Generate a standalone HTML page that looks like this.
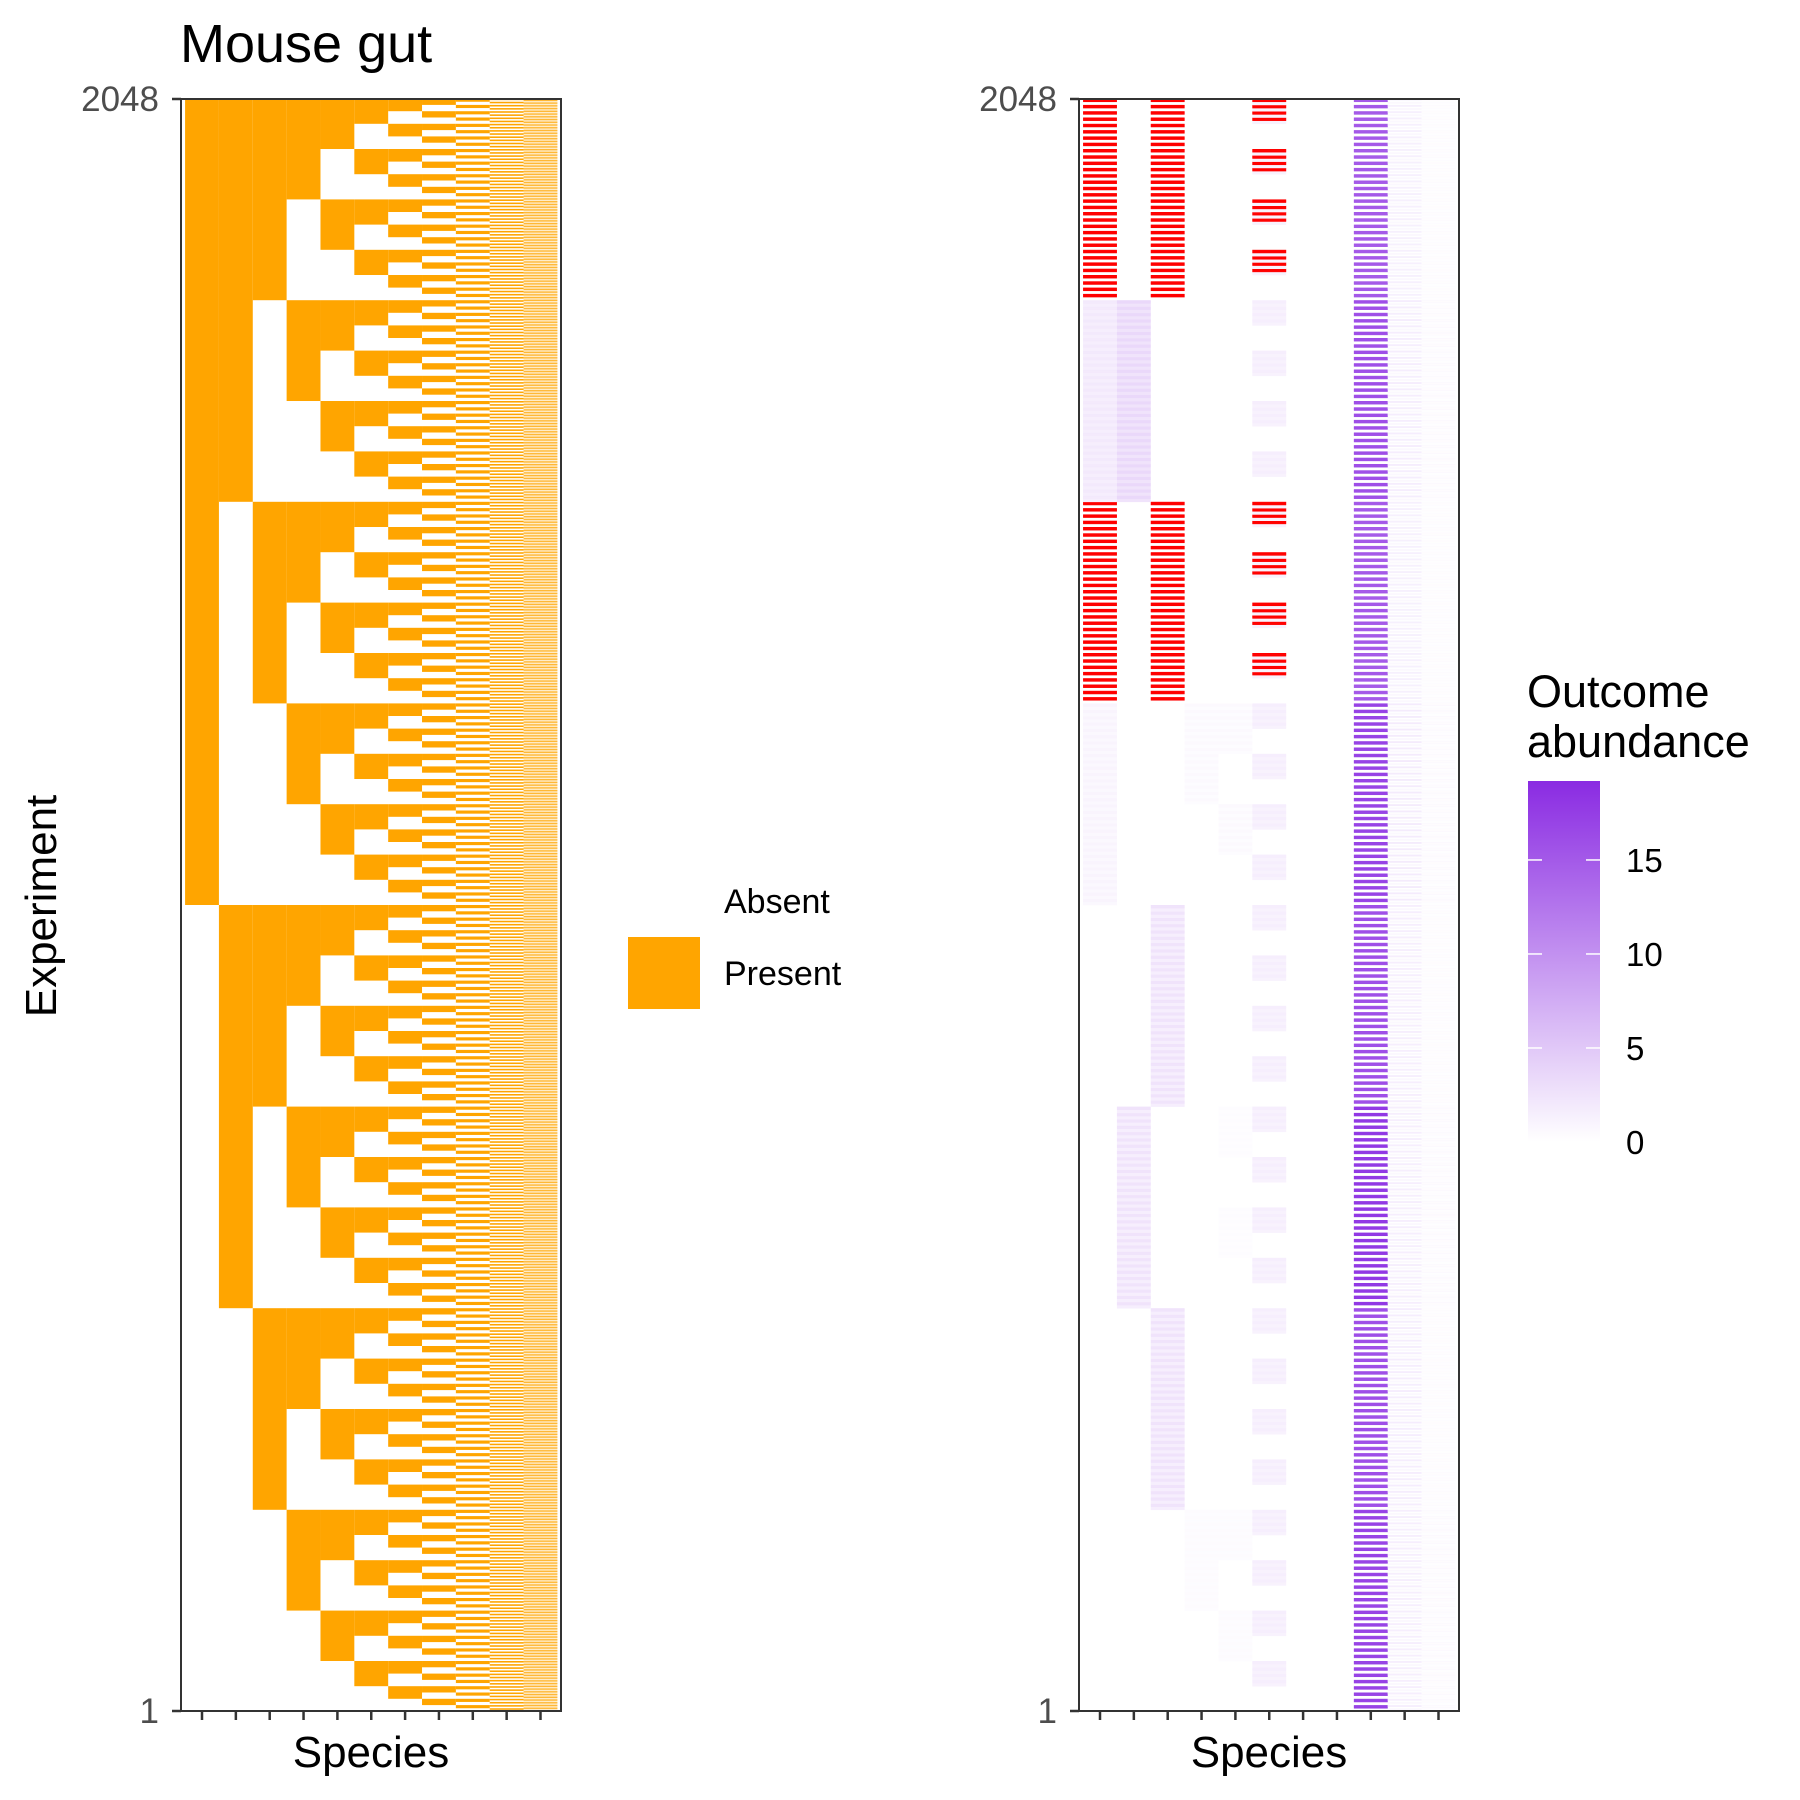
<!DOCTYPE html>
<html><head><meta charset="utf-8"><style>
html,body{margin:0;padding:0;background:#fff;}
svg{display:block;font-family:"Liberation Sans",sans-serif;}
</style></head><body>
<svg id="chart" width="1800" height="1800" viewBox="0 0 1800 1800">
<text x="180" y="62" font-size="54" fill="#000">Mouse gut</text>
<g id="left"></g>
<g id="right"></g>
<text transform="translate(56,906) rotate(-90)" text-anchor="middle" font-size="44" fill="#000">Experiment</text>
<text x="371" y="1767" text-anchor="middle" font-size="44" fill="#000">Species</text>
<text x="1269" y="1767" text-anchor="middle" font-size="44" fill="#000">Species</text>
<g>
<rect x="628" y="865" width="72" height="72" fill="#fff"/>
<text x="724" y="913" font-size="34" fill="#000">Absent</text>
<rect x="628" y="937" width="72" height="72" fill="#FFA500"/>
<text x="724" y="985" font-size="34" fill="#000">Present</text>
</g>
<g>
<text x="1527" y="707" font-size="45" fill="#000">Outcome</text>
<text x="1527" y="757" font-size="45" fill="#000">abundance</text>
<defs><linearGradient id="cb" x1="0" y1="1" x2="0" y2="0">
<stop offset="0" stop-color="#ffffff"/><stop offset="1" stop-color="#8a2be2"/></linearGradient></defs>
<rect x="1528" y="781" width="72" height="361" fill="url(#cb)"/>
<g id="cbticks"></g>
</g>
</svg>
<script>
const NS="http://www.w3.org/2000/svg";
const speciesLabels=["1","2","3","4","5","6","7","8","9","10","11"];
const yTickLabels=["1","2048"];
const nExp=2048;
// abundance per species by top-3-species group (g = s1*4+s2*2+s3), used when species 9 present; -1 = out of range (red)
const abundWith9=[
 [0,0,0,0,1,-1,2,-1],
 [0,0,2.5,0,0,0,3.5,0],
 [0,2.5,0,2.5,0,-1,0,-1],
 [0.4,0,0,0,0.5,0,0,0],
 [0.4,0,0.3,0,0.5,0,0,0],
 [1.5,1.5,1.5,1.5,1.5,-1,1.5,-1],
 [0,0,0,0,0,0,0,0],
 [0,0,0,0,0,0,0,0],
 [17,16,18,16,17,15,16,15],
 [1.5,1.6,1.5,1.5,1.8,1.4,1.6,1.4],
 [0.5,0.4,0.5,0.4,0.5,0.4,0.5,0.4]];
const abundNo9=[
 [0,0,0,0,0.6,0,1.5,0],
 [0,0,1.5,0,0,0,2.5,0],
 [0,1.5,0,1.5,0,0,0,0],
 [0.3,0,0,0,0.3,0,0,0],
 [0.3,0,0.2,0,0.3,0,0,0],
 [1.2,1.2,1.2,1.2,1.2,1.2,1.2,1.2],
 [0,0,0,0,0,0,0,0],
 [0,0,0,0,0,0,0,0],
 [0,0,0,0,0,0,0,0],
 [0.6,0.6,0.6,0.6,0.6,0.6,0.6,0.6],
 [0.3,0.3,0.3,0.3,0.3,0.3,0.3,0.3]];
const cbTicks=[0,5,10,15];
const yTop=99,yBot=1711,cbMax=19.2,cbZero=1142,cbTopY=781;
const panelW=380;
function yScale(v){return yBot-(v-1)*(yBot-yTop)/(nExp-1);}
const rowH=(yBot-yTop)/(nExp-1);
function xScale(i,x0){return x0+21+i*33.85;}
const colW=33.85;
function present(e,j){return (e>>(10-j))&1;}
function col(v){if(v<0)return"#ff0000";const t=Math.min(v/cbMax,1);
 const r=Math.round(255+(138-255)*t),g=Math.round(255+(43-255)*t),b=Math.round(255+(226-255)*t);return`rgb(${r},${g},${b})`;}
function mk(tag,attrs,parent){const el=document.createElementNS(NS,tag);for(const k in attrs)el.setAttribute(k,attrs[k]);parent.appendChild(el);return el;}
function clipRect(y0,y1){return[Math.max(yTop,y0),Math.min(yBot,y1)];}
function frame(g,x0,name){
 const r=mk("rect",{x:x0,y:yTop,width:panelW,height:yBot-yTop,fill:"none",stroke:"#333",'stroke-width':2},g);
 
 
 speciesLabels.forEach((s,i)=>{
  const t=mk("line",{x1:xScale(i,x0),x2:xScale(i,x0),y1:yBot,y2:yBot+9,stroke:"#333",'stroke-width':2.5},g);
  
  });
 yTickLabels.forEach(l=>{const y=yScale(+l);
  const t=mk("line",{x1:x0-9,x2:x0,y1:y,y2:y,stroke:"#333",'stroke-width':2.5},g);
  
  
  const tx=mk("text",{x:x0-22,y:y+12,'text-anchor':"end",'font-size':35,fill:"#4d4d4d"},g);tx.textContent=l;
  
  });
}
const L=document.getElementById("left");const lx=181;
for(let j=0;j<11;j++){const run=1<<(10-j);
 for(let s=run;s<nExp;s+=2*run){
  const [y0,y1]=clipRect(yScale(s+run)-rowH/2,yScale(s+1)+rowH/2);
  const r=mk("rect",{x:xScale(j,lx)-colW/2,y:y0,width:colW,height:y1-y0,fill:"#FFA500"},L);
  
  }}
frame(L,lx,'left-panel');
const R=document.getElementById("right");const rx=1079;
for(let e=0;e<nExp;e++){const g=present(e,0)*4+present(e,1)*2+present(e,2);const h9=present(e,8);
 for(let j=0;j<11;j++){if(!present(e,j))continue;
  const v=h9?abundWith9[j][g]:abundNo9[j][g];if(v===0)continue;
  const [y0,y1]=clipRect(yScale(e+1)-rowH/2,yScale(e+1)+rowH/2);
  const r=mk("rect",{x:xScale(j,rx)-colW/2,y:y0,width:colW,height:Math.max(0,y1-y0+0.3),fill:col(v)},R);
  
  }}
frame(R,rx,'right-panel');
const C=document.getElementById("cbticks");
cbTicks.forEach(v=>{const y=cbZero-v*(cbZero-cbTopY)/cbMax;
 [[1528,1542],[1586,1600]].forEach(p=>{const t=mk("line",{x1:p[0],x2:p[1],y1:y,y2:y,stroke:"#fff",'stroke-width':1.5},C);
  
  });
 const tx=mk("text",{x:1626,y:y+12,'font-size':33,fill:"#000"},C);tx.textContent=v;
 
 });
</script>
</body></html>
